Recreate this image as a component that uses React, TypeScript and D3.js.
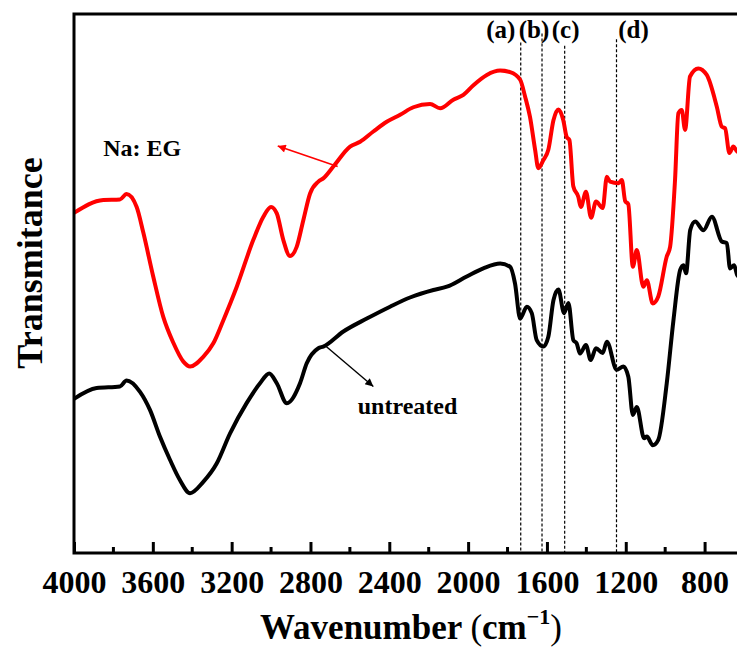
import React, { useEffect, useRef } from "react";
import * as d3 from "d3";

// FTIR spectra, [wavenumber (cm-1), transmittance (a.u.)]
const naEG: [number, number][] = [
  [4000, 63.1], [3851, 65.5], [3767, 65.6], [3733, 66.6], [3682, 64.2],
  [3648, 59.4], [3598, 51.3], [3547, 43.8], [3496, 39.0], [3445, 35.5],
  [3411, 34.6], [3344, 36.4], [3293, 38.9], [3242, 43.2], [3174, 49.4],
  [3090, 58.1], [3039, 62.4], [3000, 64.2], [2971, 63.0], [2938, 58.1],
  [2904, 55.1], [2870, 56.8], [2836, 61.8], [2802, 66.7], [2760, 68.9],
  [2735, 69.5], [2684, 71.7], [2599, 75.4], [2548, 76.3], [2481, 78.2],
  [2413, 80.0], [2345, 81.3], [2278, 82.7], [2193, 83.3], [2142, 82.5],
  [2075, 84.1], [2024, 85.0], [1973, 86.8], [1905, 88.7], [1838, 89.5],
  [1787, 89.2], [1736, 87.8], [1711, 84.7], [1686, 80.9], [1660, 74.8],
  [1644, 71.4], [1618, 72.9], [1593, 74.8], [1567, 80.3], [1542, 82.3],
  [1517, 80.3], [1500, 77.2], [1486, 76.6], [1466, 68.0], [1441, 66.1],
  [1428, 64.2], [1402, 67.0], [1376, 62.2], [1351, 65.2], [1317, 64.0],
  [1296, 69.8], [1280, 68.9], [1237, 68.6], [1220, 69.2], [1203, 65.3],
  [1187, 64.7], [1164, 53.1], [1144, 56.2], [1111, 49.4], [1093, 50.6],
  [1063, 46.3], [1035, 47.6], [992, 55.0], [975, 56.8], [950, 69.2],
  [933, 81.6], [916, 82.2], [899, 78.5], [874, 88.4], [832, 89.9],
  [789, 88.7], [738, 82.8], [713, 79.1], [696, 78.8], [674, 74.2],
  [654, 75.4], [635, 74.5], [615, 74.0],
];

const untreated: [number, number][] = [
  [4000, 28.6], [3885, 30.6], [3767, 30.9], [3733, 32.0], [3665, 29.9],
  [3614, 26.5], [3564, 21.6], [3513, 17.3], [3462, 13.5], [3411, 11.1],
  [3344, 13.2], [3276, 16.6], [3208, 22.2], [3124, 27.8], [3056, 31.5],
  [3009, 33.3], [2971, 31.5], [2920, 27.8], [2853, 31.5], [2819, 35.2],
  [2760, 38.0], [2735, 38.3], [2633, 41.1], [2514, 43.5], [2396, 45.7],
  [2295, 47.4], [2176, 48.8], [2108, 49.4], [2007, 51.3], [1923, 52.8],
  [1837, 53.7], [1787, 53.1], [1762, 50.0], [1736, 43.5], [1702, 45.7],
  [1677, 44.5], [1652, 39.5], [1618, 38.3], [1593, 40.1], [1567, 46.9],
  [1542, 48.9], [1513, 44.5], [1491, 46.4], [1466, 39.5], [1449, 38.9],
  [1432, 37.0], [1402, 38.6], [1378, 35.8], [1351, 38.0], [1317, 37.1],
  [1296, 39.2], [1246, 34.0], [1212, 34.6], [1187, 32.7], [1164, 25.6],
  [1144, 27.1], [1107, 21.3], [1093, 21.6], [1063, 20.0], [1035, 21.0],
  [992, 31.5], [958, 43.2], [924, 52.5], [907, 53.4], [894, 51.9],
  [873, 59.9], [848, 61.5], [806, 59.9], [763, 62.4], [713, 57.8],
  [687, 57.5], [671, 52.8], [650, 53.4], [635, 51.6], [615, 51.0],
];

const majorTicks = [4000, 3600, 3200, 2800, 2400, 2000, 1600, 1200, 800];
const minorTicks = [3800, 3400, 3000, 2600, 2200, 1800, 1400, 1000, 600];

// marked bands
const peakLabels = ["(a)", "(b)", "(c)", "(d)"];
const peakWaves = [1733, 1625, 1510, 1247];
const peakTops = [94.7, 96.4, 94.1, 95.3];

const W = 737;
const H = 650;
const FONT = "'Times New Roman', 'Liberation Serif', serif";

export default function App() {
  const ref = useRef<SVGSVGElement>(null);

  useEffect(() => {
    const svg = d3.select(ref.current);
    svg.selectAll("*").remove();

    const left = 74;
    const right = 744; // frame runs past the picture edge
    const top = 14;
    const bottom = 553;

    const x = d3.scaleLinear().domain([4000, 600]).range([left, right]);
    const y = d3.scaleLinear().domain([0, 100]).range([bottom, top]);

    const defs = svg.append("defs");
    const marker = (id: string, color: string) =>
      defs
        .append("marker")
        .attr("id", id)
        .attr("viewBox", "0 0 10 10")
        .attr("refX", 10)
        .attr("refY", 5)
        .attr("markerWidth", 11)
        .attr("markerHeight", 8)
        .attr("markerUnits", "userSpaceOnUse")
        .attr("orient", "auto")
        .append("path")
        .attr("d", "M0,0 L10,5 L0,10 Z")
        .attr("fill", color);
    marker("head-red", "#ff0000");
    marker("head-black", "#000");

    // dashed band markers
    svg
      .append("g")
      .selectAll("line")
      .data(peakWaves)
      .join("line")
      .attr("x1", (d) => x(d))
      .attr("x2", (d) => x(d))
      .attr("y1", (_, i) => y(peakTops[i]))
      .attr("y2", bottom)
      .attr("stroke", "#000")
      .attr("stroke-width", 1.2)
      .attr("stroke-dasharray", "3,2");

    const labelShift = [-20, -8, 1, 17];
    svg
      .append("g")
      .selectAll("text")
      .data(peakLabels)
      .join("text")
      .attr("x", (_, i) => x(peakWaves[i]) + labelShift[i])
      .attr("y", 38)
      .attr("text-anchor", "middle")
      .attr("font-family", FONT)
      .attr("font-weight", "bold")
      .attr("font-size", 25)
      .text((d) => d);

    const line = d3
      .line<[number, number]>()
      .x((d) => x(d[0]))
      .y((d) => y(d[1]))
      .curve(d3.curveMonotoneX);

    svg
      .append("path")
      .datum(untreated)
      .attr("d", line)
      .attr("fill", "none")
      .attr("stroke", "#000")
      .attr("stroke-width", 4)
      .attr("stroke-linejoin", "round");

    svg
      .append("path")
      .datum(naEG)
      .attr("d", line)
      .attr("fill", "none")
      .attr("stroke", "#ff0000")
      .attr("stroke-width", 4)
      .attr("stroke-linejoin", "round");

    // annotation arrows
    svg
      .append("line")
      .attr("x1", x(2662))
      .attr("y1", y(71.7))
      .attr("x2", x(2966))
      .attr("y2", y(75.5))
      .attr("stroke", "#ff0000")
      .attr("stroke-width", 1.6)
      .attr("marker-end", "url(#head-red)");

    svg
      .append("line")
      .attr("x1", x(2720))
      .attr("y1", y(38.3))
      .attr("x2", x(2481))
      .attr("y2", y(30.9))
      .attr("stroke", "#000")
      .attr("stroke-width", 1.4)
      .attr("marker-end", "url(#head-black)");

    svg
      .append("text")
      .attr("x", x(3852))
      .attr("y", y(73.7))
      .attr("font-family", FONT)
      .attr("font-weight", "bold")
      .attr("font-size", 24)
      .text("Na: EG");

    svg
      .append("text")
      .attr("x", x(2560))
      .attr("y", y(25.7))
      .attr("font-family", FONT)
      .attr("font-weight", "bold")
      .attr("font-size", 24)
      .text("untreated");

    // frame
    svg
      .append("path")
      .attr("d", `M${right},${top} H${left} V${bottom} H${right} V${top}`)
      .attr("fill", "none")
      .attr("stroke", "#000")
      .attr("stroke-width", 3);

    // inward ticks
    const axis = svg
      .append("g")
      .attr("transform", `translate(0,${bottom})`)
      .call(
        d3
          .axisBottom(x)
          .tickValues(majorTicks)
          .tickSize(-11)
          .tickSizeOuter(0)
          .tickPadding(17)
          .tickFormat(d3.format("d"))
      );
    axis.select(".domain").remove();
    axis.selectAll(".tick line").attr("stroke-width", 3);
    axis
      .selectAll(".tick text")
      .attr("font-family", FONT)
      .attr("font-weight", "bold")
      .attr("font-size", 32)
      .attr("fill", "#000");

    svg
      .append("g")
      .selectAll("line")
      .data(minorTicks)
      .join("line")
      .attr("x1", (d) => x(d))
      .attr("x2", (d) => x(d))
      .attr("y1", bottom)
      .attr("y2", bottom - 6)
      .attr("stroke", "#000")
      .attr("stroke-width", 3);

    // axis titles
    const xt = svg
      .append("text")
      .attr("x", 411)
      .attr("y", 639)
      .attr("text-anchor", "middle")
      .attr("font-family", FONT)
      .attr("font-size", 35);
    xt.append("tspan").attr("font-weight", "bold").text("Wavenumber ");
    xt.append("tspan").text("(");
    xt.append("tspan").attr("font-weight", "bold").text("cm");
    xt.append("tspan")
      .attr("font-weight", "bold")
      .attr("font-size", 22)
      .attr("dy", -15)
      .text("\u22121");
    xt.append("tspan").attr("dy", 15).text(")");

    svg
      .append("text")
      .attr("transform", "translate(42,263) rotate(-90)")
      .attr("text-anchor", "middle")
      .attr("font-family", FONT)
      .attr("font-weight", "bold")
      .attr("font-size", 36)
      .text("Transmitance");
  }, []);

  return (
    <div style={{ position: "absolute", left: 0, top: 0 }}>
      <svg ref={ref} width={W} height={H} style={{ display: "block", background: "#fff" }} />
    </div>
  );
}
